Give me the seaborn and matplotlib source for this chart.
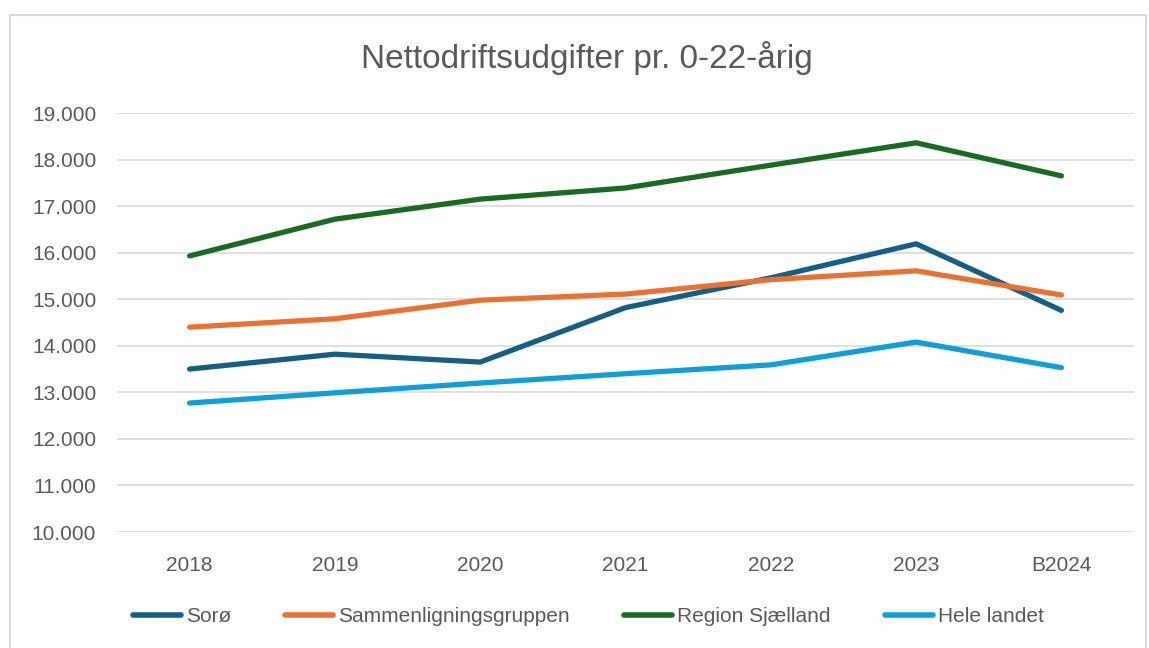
import pandas as pd
import matplotlib
import matplotlib.pyplot as plt
import seaborn as sns
from matplotlib.patches import Rectangle
from matplotlib.ticker import FuncFormatter

matplotlib.use('Agg')

# Data
years = ['2018', '2019', '2020', '2021', '2022', '2023', 'B2024']
soroe = [13500, 13820, 13650, 14820, 15460, 16190, 14760]
sammenligning = [14400, 14580, 14980, 15110, 15420, 15610, 15090]
region_sj = [15930, 16720, 17150, 17390, 17880, 18360, 17650]
hele_landet = [12770, 12990, 13200, 13400, 13590, 14080, 13530]

series_names = ['Sorø', 'Sammenligningsgruppen', 'Region Sjælland', 'Hele landet']
series_values = [soroe, sammenligning, region_sj, hele_landet]
colors = ['#156082', '#E97132', '#196B24', '#0F9ED5']

rows = []
for name, vals in zip(series_names, series_values):
    for yr, v in zip(years, vals):
        rows.append({'year': yr, 'value': v, 'serie': name})
df = pd.DataFrame(rows)

sns.set_style('white')
plt.rcParams['font.family'] = ['Liberation Sans', 'DejaVu Sans']

fig = plt.figure(figsize=(11.49, 6.48), dpi=100)
ax = fig.add_axes([0.1018, 0.179, 0.8852, 0.6466])

sns.lineplot(data=df, x='year', y='value', hue='serie', hue_order=series_names,
             palette=colors, linewidth=3.8, sort=False, ax=ax,
             solid_capstyle='round', solid_joinstyle='round')

ax.set_xlim(-0.5, len(years) - 0.5)
ax.set_ylim(10000, 19000)
ax.set_yticks(range(10000, 19001, 1000))
ax.yaxis.set_major_formatter(FuncFormatter(lambda v, p: f'{int(v):,}'.replace(',', '.')))
ax.grid(axis='y', color='#D9D9D9', linewidth=1.2)
ax.grid(axis='x', visible=False)
ax.set_axisbelow(True)
for s in ax.spines.values():
    s.set_visible(False)
ax.tick_params(axis='both', length=0, labelsize=15, colors='#595959')
ax.tick_params(axis='y', pad=15)
ax.tick_params(axis='x', pad=17)
ax.set_xlabel('')
ax.set_ylabel('')

fig.text(0.511, 0.91, 'Nettodriftsudgifter pr. 0-22-årig', ha='center', va='center',
         fontsize=24, color='#595959')

handles, labels = ax.get_legend_handles_labels()
leg = ax.legend(handles, labels, loc='center', bbox_to_anchor=(0.512, 0.048),
                bbox_transform=fig.transFigure, ncol=4, frameon=False,
                fontsize=15, handlelength=2.3, handletextpad=0.25, columnspacing=2.6)
for t in leg.get_texts():
    t.set_color('#595959')
for line in leg.get_lines():
    line.set_linewidth(4)
    line.set_solid_capstyle('round')

# outer chart border
fig.patches.append(Rectangle((10 / 1149, -0.01), 1136 / 1149, 1 - 15 / 648 + 0.01,
                             transform=fig.transFigure, fill=False,
                             edgecolor='#D9D9D9', linewidth=1.5))

fig.savefig('out.png', dpi=100)
